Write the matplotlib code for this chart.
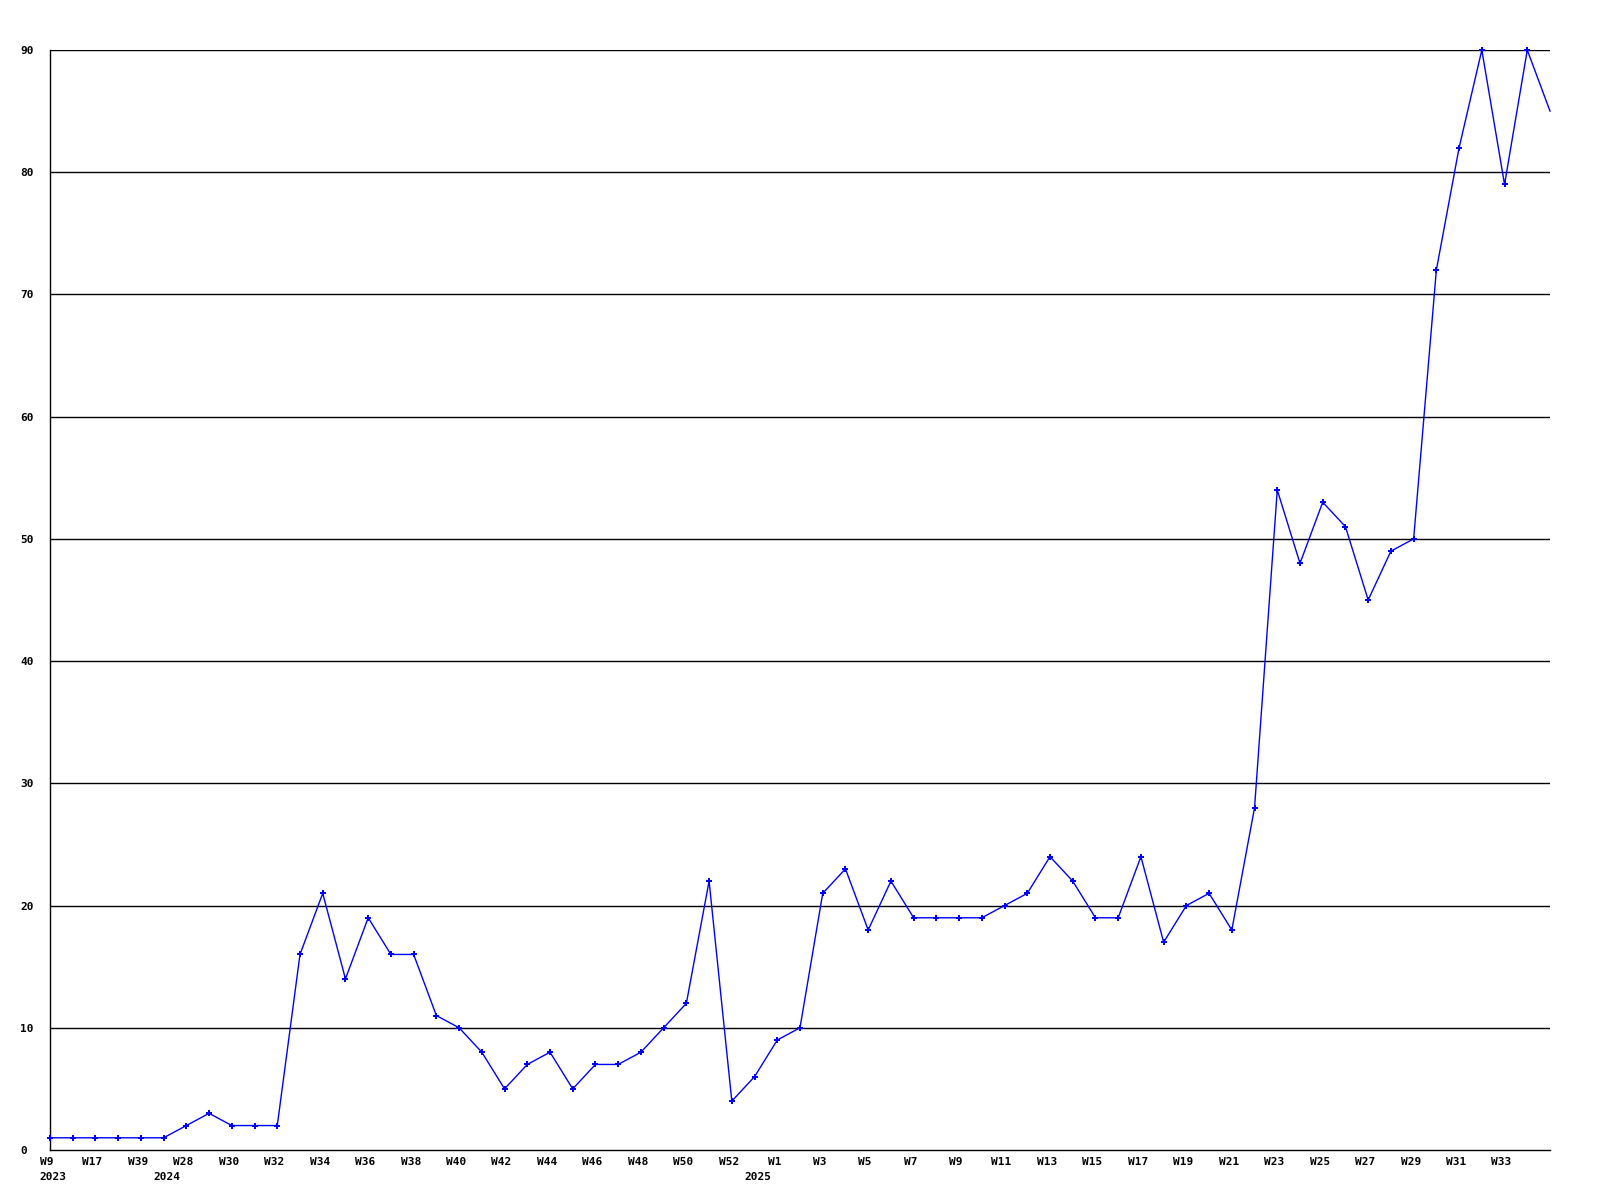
import matplotlib
matplotlib.use("Agg")
import matplotlib.pyplot as plt
import matplotlib.transforms as mtransforms

# weekly counts, one point per week
values = [1, 1, 1, 1, 1, 1, 2, 3, 2, 2,
          2, 16, 21, 14, 19, 16, 16, 11, 10, 8,
          5, 7, 8, 5, 7, 7, 8, 10, 12, 22,
          4, 6, 9, 10, 21, 23, 18, 22, 19, 19,
          19, 19, 20, 21, 24, 22, 19, 19, 24, 17,
          20, 21, 18, 28, 54, 48, 53, 51, 45, 49,
          50, 72, 82, 90, 79, 90, 85]

week_labels = ["W9", "W17", "W39", "W28", "W30", "W32", "W34", "W36", "W38",
               "W40", "W42", "W44", "W46", "W48", "W50", "W52", "W1", "W3",
               "W5", "W7", "W9", "W11", "W13", "W15", "W17", "W19", "W21",
               "W23", "W25", "W27", "W29", "W31", "W33"]
week_pos = list(range(0, 66, 2))

years = ["2023", "2024", "2025"]
year_pos = [0, 5, 31]

y_ticks = [0, 10, 20, 30, 40, 50, 60, 70, 80, 90]

FONT = dict(family="DejaVu Sans Mono", weight="bold", size=8)

fig = plt.figure(figsize=(16, 12), dpi=100)
ax = fig.add_axes([50 / 1600, 50 / 1200, 1500 / 1600, 1100 / 1200])

x = list(range(len(values)))
# last point is drawn without a marker (it sits on the right edge)
ax.plot(x, values, color="#0000ff", lw=1, marker="P", markersize=4.5,
        markeredgewidth=0, markevery=list(range(len(values) - 1)),
        zorder=3, clip_on=False)

ax.set_xlim(0, len(values) - 1)
ax.set_ylim(0, 90)

for t in y_ticks[1:]:
    ax.axhline(t, color="black", lw=1, zorder=1)

ax.spines["top"].set_visible(False)
ax.spines["right"].set_visible(False)
ax.spines["left"].set_linewidth(1)
ax.spines["bottom"].set_linewidth(1)

ax.set_yticks(y_ticks)
ax.set_yticklabels([str(t) for t in y_ticks], **FONT)
for lab in ax.get_yticklabels():
    lab.set_horizontalalignment("left")
ax.tick_params(axis="y", length=0, pad=21.6)

ax.set_xticks(week_pos)
ax.set_xticklabels(week_labels, **FONT)
ax.tick_params(axis="x", length=0, pad=5)
shift = mtransforms.ScaledTranslation(-3 / 100, 0, fig.dpi_scale_trans)
for lab in ax.get_xticklabels():
    lab.set_transform(lab.get_transform() + shift)

for yr, p in zip(years, year_pos):
    ax.annotate(yr, xy=(p, 0), xycoords=("data", "axes fraction"),
                xytext=(3, -27), textcoords="offset pixels",
                ha="center", va="center", **FONT)

fig.savefig("out.png", dpi=100)
